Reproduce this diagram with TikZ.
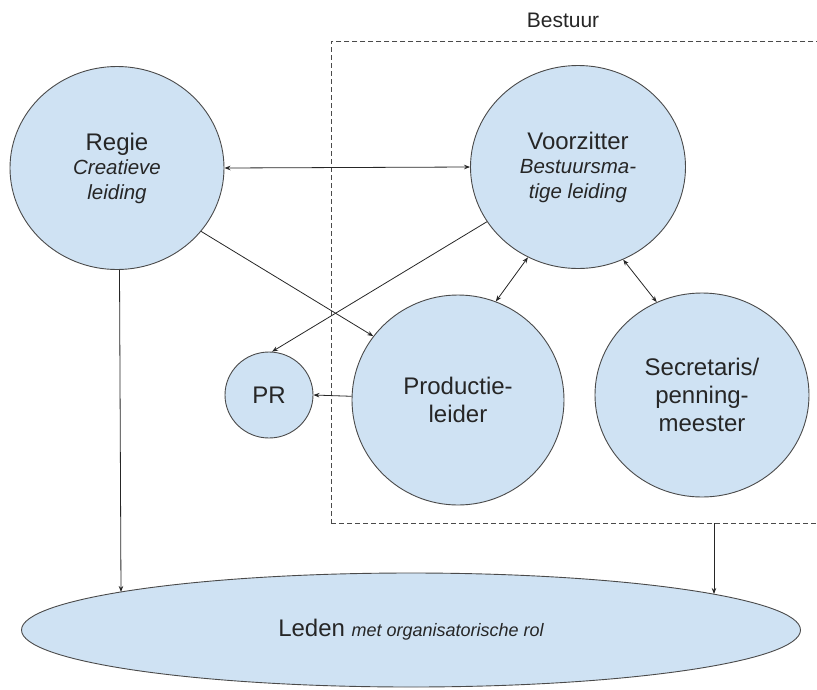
\documentclass[tikz,border=0pt]{standalone}
\usepackage{fontspec}
\setmainfont{Liberation Sans}
\usetikzlibrary{shapes.geometric,arrows.meta}
\definecolor{fillblue}{HTML}{CFE2F3}
\definecolor{edgegray}{HTML}{4A4A4A}
\definecolor{txt}{HTML}{262626}
\newcommand{\rolit}{\itshape\fontsize{20.5}{24}\selectfont}
\begin{document}
\begin{tikzpicture}[x=1pt,y=-1pt,
  role/.style={shape=ellipse, draw=edgegray, fill=fillblue, line width=0.9pt,
    inner sep=0pt, align=center, text=txt, font=\fontsize{24}{28}\selectfont},
  tip/.tip={Stealth[length=6pt,width=4.5pt]},
  arr/.style={draw=black!85, line width=0.8pt, -tip},
  darr/.style={draw=black!85, line width=0.8pt, tip-tip},
  groupbox/.style={draw=edgegray, line width=0.8pt, dash pattern=on 5pt off 3pt,
    inner sep=0pt, anchor=north west},
  label/.style={text=txt, font=\fontsize{21}{24}\selectfont}]
\useasboundingbox (0,0) rectangle (817,689);

% Bestuur group
\node[groupbox, minimum width=520pt, minimum height=482pt] (bestuur) at (331,41) {};
\node[label] (bestuurlbl) at (563,20) {Bestuur};
\coordinate (boxout) at (714,523);

% roles
\node[role, minimum width=214pt, minimum height=203pt, font=\fontsize{24}{24.5}\selectfont]
  (regie) at (117,168) {Regie\\{\rolit Creatieve}\\{\rolit leiding}};
\node[role, minimum width=215pt, minimum height=203pt, font=\fontsize{24}{24.5}\selectfont]
  (voorz) at (578,167) {Voorzitter\\{\rolit Bestuursma-}\\{\rolit tige leiding}};
\node[role, minimum width=212pt, minimum height=210pt] (prod) at (458,400) {Productie-\\leider};
\node[role, minimum width=214pt, minimum height=204pt] (sec) at (702,395) {Secretaris/\\penning-\\meester};
\node[role, minimum width=88pt, minimum height=86pt] (pr) at (269,395) {PR};
\node[role, minimum width=779pt, minimum height=114pt] (leden) at (411,630)
  {Leden {\itshape\fontsize{18}{20}\selectfont met organisatorische rol}};
\coordinate (ledenL) at (121,592);
\coordinate (ledenR) at (714,594);

% connectors
\draw[darr] (regie.east) -- (voorz.west);
\draw[arr] (regie.-37) -- (prod.143);
\draw[arr] (voorz.-149) -- (pr.86);
\draw[arr] (prod.178) -- (pr.east);
\draw[darr] (prod.69) -- (voorz.-119);
\draw[darr] (voorz.-64) -- (sec.116);
\draw[arr] ([xshift=2.5pt]regie.south) -- (ledenL);
\draw[arr] (boxout) -- (ledenR);
\end{tikzpicture}
\end{document}
